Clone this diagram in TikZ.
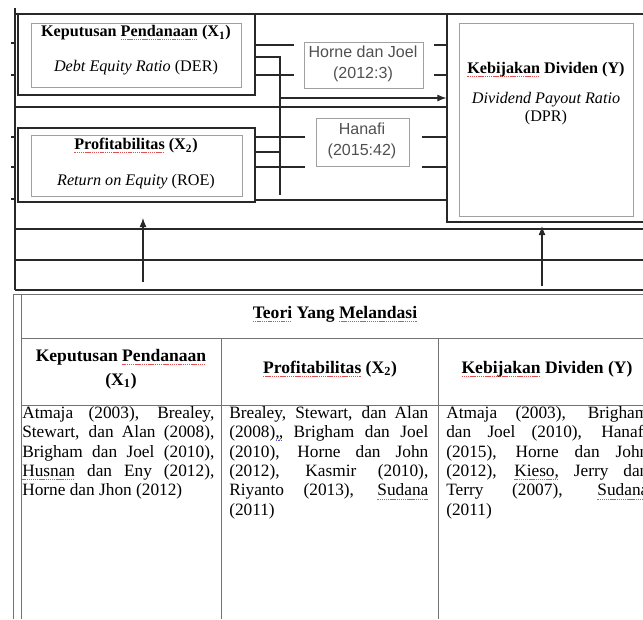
\documentclass[tikz,border=0pt]{standalone}
\usepackage{fontspec}
\setmainfont{Liberation Serif}
\newfontfamily\arialfont{Liberation Sans}
\usepackage{xcolor}
\usepackage{tikz}
\usetikzlibrary{arrows.meta,positioning,fit}
\definecolor{linegray}{RGB}{40,40,40}
\definecolor{boxgray}{RGB}{160,160,160}
\definecolor{tablegray}{RGB}{115,115,115}
\definecolor{textgray}{RGB}{80,80,80}
\definecolor{spellred}{RGB}{225,80,80}
\definecolor{spellblue}{RGB}{90,90,215}
\newsavebox{\spellbox}
\newcommand{\squiggle}[2]{\sbox{\spellbox}{#2}\rlap{\textcolor{#1}{\hbox to \wd\spellbox{\xleaders\hbox{\rule[-0.42ex]{1pt}{0.5pt}\hskip0.5pt}\hfill}}}\usebox{\spellbox}}
\newcommand{\spell}[1]{\squiggle{spellred}{#1}}
\newcommand{\gramm}[1]{\squiggle{spellblue}{#1}}
\tolerance=10000
\hbadness=10000

\begin{document}
\begin{tikzpicture}[
x=0.025cm, y=-0.025cm,
every node/.style={text centered},
frame/.style={draw=linegray, line width=0.75pt},
outerbox/.style={rectangle, draw=linegray, line width=0.8pt, inner sep=0pt},
innerbox/.style={rectangle, draw=boxgray, line width=0.5pt, inner sep=0pt},
refbox/.style={rectangle, draw=boxgray, line width=0.5pt, inner sep=0pt},
ref_text/.style={align=center, text=textgray, font=\arialfont\fontsize{11.4}{15.2}\selectfont},
title_style/.style={font=\fontsize{11.5}{13}\selectfont\bfseries},
sub_style/.style={font=\fontsize{11.5}{12.8}\selectfont, align=center},
link/.style={draw=linegray, line width=0.75pt},
arrow/.style={-{Latex[length=6.5pt,width=5pt]}, line width=0.75pt, linegray},
rule_line/.style={draw=tablegray, line width=0.7pt},
head_style/.style={font=\fontsize{12.5}{17}\selectfont\bfseries, align=center},
cell_text/.style={font=\fontsize{12.3}{13.8}\selectfont, align=justify, inner sep=0pt, anchor=north west}
]

\clip (0,0) rectangle (643,619);

% Frame of the upper part

\draw[frame] (15,8) -- (15,290);
\draw[frame] (15,14) -- (643,14);
\foreach \y in {43,75,137,167,199} \draw[frame] (11,\y) -- (15,\y);

% Variable X1

\node[outerbox, fit={(18,14) (255,95)}] (X1out) {};
\node[innerbox, fit={(31,23) (241,87)}] (X1in) {};
\node[title_style] (X1title) at (136,33) {Keputusan \spell{Pendanaan} (X\textsubscript{1})};
\node[sub_style] (X1sub) at (136,68) {\textit{Debt Equity Ratio} (DER)};

% Variable X2

\node[outerbox, fit={(18,128) (255,202)}] (X2out) {};
\node[innerbox, fit={(31,135) (242,196)}] (X2in) {};
\node[title_style] (X2title) at (136,146) {\spell{Profitabilitas} (X\textsubscript{2})};
\node[sub_style] (X2sub) at (136,182) {\textit{Return on Equity} (ROE)};

% Variable Y

\node[outerbox, fit={(447,14) (660,222)}] (Yout) {};
\node[innerbox, fit={(459,23) (633,216)}] (Yin) {};
\node[title_style] (Ytitle) at (546,70) {\spell{Kebijakan} Dividen (Y)};
\node[sub_style] (Ysub) at (546,109) {\textit{Dividend Payout Ratio}\\(DPR)};

% References between the boxes

\node[refbox, fit={(304,42) (423,88)}] (horne) {};
\node[ref_text] (hornetext) at (363,64) {Horne dan Joel\\(2012:3)};
\node[refbox, fit={(316,118) (409,166)}] (hanafi) {};
\node[ref_text] (hanafitext) at (362,141) {Hanafi\\(2015:42)};

% Connectors

\coordinate (jointop) at (280,57);
\coordinate (jointbot) at (280,195);
\coordinate (x2join) at (280,152);
\coordinate (arrowstart) at (280,98);
\draw[link] (X1out.east |- jointop) -- (jointop) -- (jointbot);
\draw[link] (X2out.east |- x2join) -- (x2join);
\draw[arrow] (arrowstart) -- (arrowstart -| Yout.west);
\foreach \y in {45,75} {
  \draw[link] (X1out.east |- 0,\y) -- ++(38,0);
  \draw[link] (Yout.west |- 0,\y) -- ++(-12,0);
}
\foreach \y in {137,167} {
  \draw[link] (X2out.east |- 0,\y) -- ++(49,0);
  \draw[link] (Yout.west |- 0,\y) -- ++(-24,0);
}
\draw[link] (X2out.east |- 0,200) -- (Yout.west |- 0,200);
\draw[frame] (15,107) -- (Yout.west |- 0,107);

% Rows under the boxes

\draw[frame] (15,229) -- (643,229);
\draw[frame] (15,260) -- (643,260);
\draw[frame] (15,290) -- (643,290);

\coordinate (x2foot) at (143,282);
\coordinate (x2tip) at (143,218);
\coordinate (yfoot) at (542,286);
\coordinate (ytip) at (542,226);
\draw[arrow] (x2foot) -- (x2tip);
\draw[arrow] (yfoot) -- (ytip);

% Table of theories

\draw[rule_line] (643,294) -- (13,294) -- (13,619);
\draw[rule_line] (21,294) -- (21,619);
\draw[rule_line] (21,338) -- (643,338);
\draw[rule_line] (21,405) -- (643,405);
\draw[rule_line] (221,338) -- (221,619);
\draw[rule_line] (438,338) -- (438,619);

\node[head_style] (theory) at (335,314) {\spell{Teori} Yang \spell{Melandasi}};
\node[head_style] (head1) at (121,369) {Keputusan \spell{Pendanaan}\\(X\textsubscript{1})};
\node[head_style] (head2) at (330,369) {\spell{Profitabilitas} (X\textsubscript{2})};
\node[head_style] (head3) at (547,369) {\spell{Kebijakan} Dividen (Y)};

\node[cell_text, text width=4.8cm] (cell1) at (22,406)
{Atmaja (2003), Brealey,\linebreak Stewart, dan Alan (2008),\linebreak Brigham dan Joel (2010),\linebreak \spell{Husnan} dan Eny (2012),\linebreak Horne dan Jhon (2012)};

\node[cell_text, text width=4.975cm] (cell2) at (229,406)
{Brealey, Stewart, dan Alan\linebreak (2008)\gramm{,,} Brigham dan Joel\linebreak (2010), Horne dan John\linebreak (2012), Kasmir (2010),\linebreak Riyanto (2013), \spell{Sudana}\linebreak (2011)};

\node[cell_text, text width=5.05cm] (cell3) at (446,406)
{Atmaja (2003), Brigham\linebreak dan Joel (2010), Hanafi\linebreak (2015), Horne dan John\linebreak (2012), \spell{Kieso,} Jerry dan\linebreak Terry (2007), \spell{Sudana}\linebreak (2011)};

\end{tikzpicture}
\end{document}
